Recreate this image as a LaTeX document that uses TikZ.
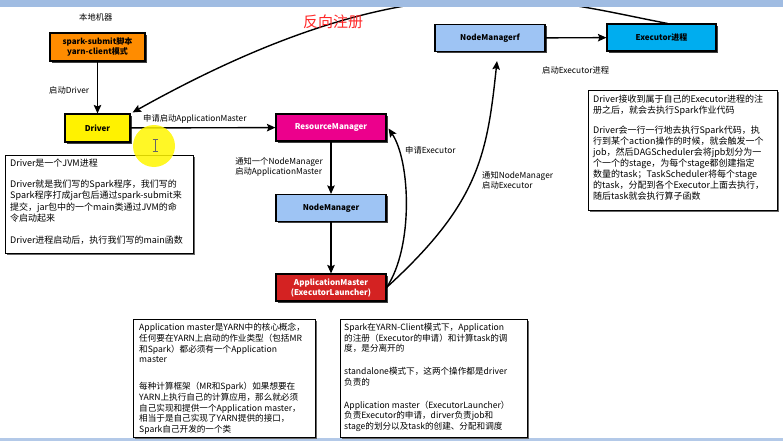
\documentclass[tikz,border=0pt]{standalone}
\usepackage{fontspec}
\setmainfont{Noto Sans CJK SC}
\usetikzlibrary{arrows.meta,shadows}
\definecolor{orangeB}{RGB}{255,140,0}
\definecolor{nmblue}{RGB}{158,196,244}
\definecolor{amred}{RGB}{212,34,34}
\definecolor{regred}{RGB}{255,40,40}
\definecolor{barblue}{RGB}{160,188,226}
\definecolor{cursoryellow}{RGB}{255,246,0}
\tikzset{
  box/.style={draw=black, line width=1.1pt, minimum width=110pt, minimum height=27pt,
    inner sep=0pt, align=center, font=\fontsize{8}{10}\selectfont\bfseries,
    drop shadow={shadow xshift=1.6pt, shadow yshift=-1.6pt, fill=black!75, opacity=1}},
  note/.style={draw=black, fill=white, line width=1pt, inner sep=0pt, anchor=north west,
    drop shadow={shadow xshift=1.2pt, shadow yshift=-1.2pt, fill=black!60, opacity=1}},
  notetext/.style={anchor=north west, inner sep=0pt, align=left},
  lbl/.style={font=\fontsize{8.3}{10.5}\selectfont, inner sep=0pt},
  arr/.style={-{Stealth[length=8.5pt,width=7.5pt,inset=1.5pt]}, line width=1.4pt},
}
\begin{document}
\begin{tikzpicture}[x=1pt,y=-1pt]
\useasboundingbox (0,0) rectangle (783,441);
\fill[white] (0,0) rectangle (783,441);

% main boxes
\node[box, fill=orangeB, minimum width=95pt, minimum height=28pt] (sub) at (97.5,47) {spark-submit脚本\\yarn-client模式};
\node[box, fill=yellow, minimum width=65pt, minimum height=28pt] (drv) at (97.5,128) {Driver};
\node[box, fill=magenta, text=white] (rm) at (331,127.5) {ResourceManager};
\node[box, fill=nmblue] (nm) at (331,208) {NodeManager};
\node[box, fill=amred, text=white] (am) at (331,287.5) {ApplicationMaster\\(ExecutorLauncher)};
\node[box, fill=nmblue] (nmf) at (490,38) {NodeManagerf};
\node[box, fill=cyan, minimum width=109pt] (exe) at (661.5,37.5) {Executor进程};

% connectors
\draw[arr] (sub) -- (drv);
\draw[arr] (drv) -- (rm);
\draw[arr] (rm) -- (nm);
\draw[arr] (nm) -- (am);
\draw[arr] (nmf) -- (exe);
\draw[arr] (am.east) .. controls +(27,-40) and +(22,33) .. ([xshift=2pt,yshift=-1pt]rm.east);
\draw[arr] (am.east) .. controls +(92,-84) and +(-10,95) .. ([xshift=7pt,yshift=-9pt]nmf.south);
\draw[arr] ([xshift=6pt]exe.north) .. controls (544,0) and (416,-46) .. ([xshift=2pt,yshift=1pt]drv.north east);

% labels
\node[lbl, anchor=west] (l7) at (79,17) {本地机器};
\node[lbl, anchor=west] (l1) at (49,90) {启动Driver};
\node[lbl, anchor=west] (l2) at (143,119) {申请启动ApplicationMaster};
\node[lbl, anchor=east, align=left] (l3) at (323,167) {通知一个NodeManager\\启动ApplicationMaster};
\node[lbl, anchor=west] (l4) at (405,150) {申请Executor};
\node[lbl, anchor=west, align=left] (l5) at (482,180.5) {通知NodeManager\\启动Executor};
\node[lbl, anchor=west] (l6) at (542,70) {启动Executor进程};
\node[font=\fontsize{15}{15}\selectfont, text=regred, inner sep=0pt] (l8) at (333,22) {反向注册};

% window bars
\fill[barblue] (0,0) rectangle (783,7);
\fill[barblue!80!white] (0,438) rectangle (783,441);

% notes
\node[note, minimum width=188pt, minimum height=98pt] (n1) at (5,155) {};
\node[notetext, font=\fontsize{9}{11.3}\selectfont] (t1) at (10,159) {Driver是一个JVM进程\\[9.5pt]Driver就是我们写的Spark程序，我们写的\\Spark程序打成jar包后通过spark-submit来\\提交，jar包中的一个main类通过JVM的命\\令启动起来\\[11pt]Driver进程启动后，执行我们写的main函数};

\node[note, minimum width=189pt, minimum height=120pt] (n2) at (588,90) {};
\node[notetext, font=\fontsize{9}{11}\selectfont] (t2) at (593,95) {Driver接收到属于自己的Executor进程的注\\册之后，就会去执行Spark作业代码\\[9pt]Driver会一行一行地去执行Spark代码，执\\行到某个action操作的时候，就会触发一个\\job，然后DAGScheduler会将jpb划分为一\\个一个的stage，为每个stage都创建指定\\数量的task；TaskScheduler将每个stage\\的task，分配到各个Executor上面去执行，\\随后task就会执行算子函数};

\node[note, minimum width=182pt, minimum height=118pt] (n3) at (133,319) {};
\node[notetext, font=\fontsize{8.6}{10.75}\selectfont] (t3) at (139,323) {Application master是YARN中的核心概念，\\任何要在YARN上启动的作业类型（包括MR\\和Spark）都必须有一个Application\\master\\[16pt]每种计算框架（MR和Spark）如果想要在\\YARN上执行自己的计算应用，那么就必须\\自己实现和提供一个Application master，\\相当于是自己实现了YARN提供的接口，\\Spark自己开发的一个类};

\node[note, minimum width=187pt, minimum height=118pt] (n4) at (340,319) {};
\node[notetext, font=\fontsize{8.6}{10.75}\selectfont] (t4) at (344,323) {Spark在YARN-Client模式下，Application\\的注册（Executor的申请）和计算task的调\\度，是分离开的\\[12pt]standalone模式下，这两个操作都是driver\\负责的\\[12pt]Application master（ExecutorLauncher）\\负责Executor的申请，dirver负责job和\\stage的划分以及task的创建、分配和调度};

% cursor highlight
\fill[cursoryellow, opacity=0.85] (154,146) circle (21pt);
\draw[black!60, line width=0.7pt] (155,139) -- (155,151) (152.5,139) -- (157.5,139) (152.5,151) -- (157.5,151);
\end{tikzpicture}
\end{document}
